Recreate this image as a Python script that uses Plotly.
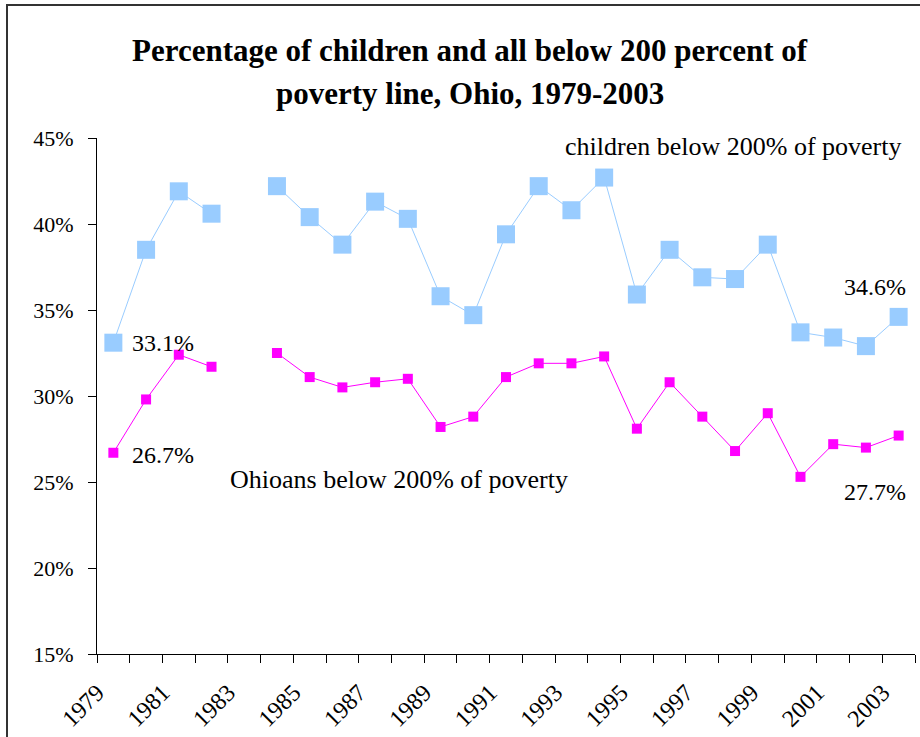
import plotly.graph_objects as go

years = list(range(1979, 2004))
children_pct = [33.1, 38.5, 41.9, 40.6, None, 42.2, 40.4, 38.8, 41.3, 40.3,
                35.8, 34.7, 39.4, 42.2, 40.8, 42.7, 35.9, 38.5, 36.9, 36.8,
                38.8, 33.7, 33.4, 32.9, 34.6]
ohioans_pct = [26.7, 29.8, 32.4, 31.7, None, 32.5, 31.1, 30.5, 30.8, 31.0,
               28.2, 28.8, 31.1, 31.9, 31.9, 32.3, 28.1, 30.8, 28.8, 26.8,
               29.0, 25.3, 27.2, 27.0, 27.7]
label_years = list(range(1979, 2004, 2))
y_ticks = [15, 20, 25, 30, 35, 40, 45]

SERIF = "Liberation Serif"
BLUE = "#99CCFF"
MAGENTA = "#FF00FF"

fig = go.Figure()
fig.add_trace(go.Scatter(
    x=years, y=children_pct, mode="lines+markers", connectgaps=False,
    line=dict(color=BLUE, width=1),
    marker=dict(symbol="square", size=18, color=BLUE),
    name="children below 200% of poverty", showlegend=False))
fig.add_trace(go.Scatter(
    x=years, y=ohioans_pct, mode="lines+markers", connectgaps=False,
    line=dict(color=MAGENTA, width=1),
    marker=dict(symbol="square", size=10, color=MAGENTA),
    name="Ohioans below 200% of poverty", showlegend=False))

fig.update_xaxes(
    range=[years[0] - 0.5, years[-1] + 0.5],
    tickmode="array", tickvals=label_years, ticktext=[str(y) for y in label_years],
    tickangle=-45, ticks="", showline=True, linecolor="#000000", linewidth=1,
    showgrid=False, zeroline=False, ticklabelstandoff=14, ticklabelshift=-16,
    tickfont=dict(family=SERIF, size=24, color="#000000"),
    minor=dict(tickmode="array", tickvals=[y - 0.5 for y in years] + [years[-1] + 0.5],
               ticks="outside", ticklen=8, tickcolor="#000000", tickwidth=1, showgrid=False),
)
fig.update_yaxes(
    range=[15, 45], tickmode="array", tickvals=y_ticks,
    ticktext=[f"{v}%" for v in y_ticks],
    ticks="outside", ticklen=8, tickcolor="#000000", tickwidth=1,
    showline=True, linecolor="#000000", linewidth=1,
    showgrid=False, zeroline=False, ticklabelstandoff=10,
    tickfont=dict(family=SERIF, size=22, color="#000000"),
)

annotations = [
    dict(text="Percentage of children and all below 200 percent of", xref="paper", yref="paper",
         x=0.4565, y=1.1705, xanchor="center", yanchor="middle", showarrow=False,
         font=dict(family=SERIF, size=31, color="#000000", weight="bold")),
    dict(text="poverty line, Ohio, 1979-2003", xref="paper", yref="paper",
         x=0.4565, y=1.087, xanchor="center", yanchor="middle", showarrow=False,
         font=dict(family=SERIF, size=31, color="#000000", weight="bold")),
    dict(text="children below 200% of poverty", x=2003.13, y=44.53, xanchor="right",
         yanchor="middle", showarrow=False, font=dict(family=SERIF, size=26, color="#000000")),
    dict(text="Ohioans below 200% of poverty", x=1982.5, y=25.17, xanchor="left",
         yanchor="middle", showarrow=False, font=dict(family=SERIF, size=26, color="#000000")),
    dict(text=f"{children_pct[0]}%", x=years[0], y=children_pct[0], xanchor="left",
         yanchor="middle", xshift=17, showarrow=False,
         font=dict(family=SERIF, size=24, color="#000000")),
    dict(text=f"{ohioans_pct[0]}%", x=years[0], y=ohioans_pct[0], xanchor="left",
         yanchor="middle", xshift=17, yshift=-2, showarrow=False,
         font=dict(family=SERIF, size=24, color="#000000")),
    dict(text=f"{children_pct[-1]}%", x=years[-1], y=children_pct[-1], xanchor="right",
         yanchor="middle", xshift=9, yshift=30, showarrow=False,
         font=dict(family=SERIF, size=24, color="#000000")),
    dict(text=f"{ohioans_pct[-1]}%", x=years[-1], y=ohioans_pct[-1], xanchor="right",
         yanchor="middle", xshift=9, yshift=-56, showarrow=False,
         font=dict(family=SERIF, size=24, color="#000000")),
]

fig.update_layout(
    width=920, height=737,
    margin=dict(l=97, r=5, t=138, b=83, autoexpand=False),
    paper_bgcolor="#FFFFFF", plot_bgcolor="#FFFFFF",
    annotations=annotations,
    shapes=[dict(type="rect", xref="paper", yref="paper",
                 x0=(7 - 97) / 818, x1=1.2, y0=-0.5, y1=(654 - 5) / 516,
                 line=dict(color="#333333", width=2), fillcolor="rgba(0,0,0,0)", layer="below")],
)

fig.write_html("out.html")
